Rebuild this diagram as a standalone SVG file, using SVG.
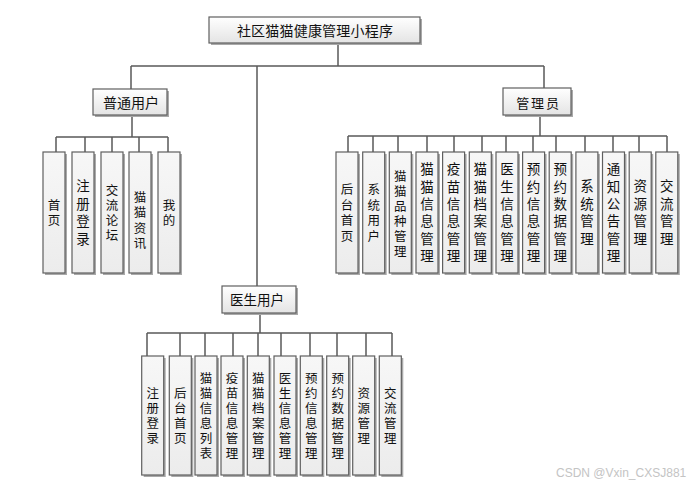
<svg xmlns="http://www.w3.org/2000/svg" width="700" height="487" viewBox="0 0 700 487">
<defs>
<linearGradient id="g" x1="0" y1="0" x2="0" y2="1">
<stop offset="0" stop-color="#ffffff"/>
<stop offset="1" stop-color="#e4e4e4"/>
</linearGradient>
<linearGradient id="g2" x1="0" y1="0" x2="0" y2="1">
<stop offset="0" stop-color="#f7f7f7"/>
<stop offset="1" stop-color="#ececec"/>
</linearGradient>
</defs>
<style>
.sh{fill:#a9a9a9}
.bx{fill:url(#g);stroke:#5f5f5f;stroke-width:1.2}
.cb{fill:url(#g2);stroke:#5f5f5f;stroke-width:1.2}
.t{font-family:"Noto Sans CJK SC","Noto Sans",sans-serif;fill:#111;text-anchor:middle}
.vt{writing-mode:vertical-rl;text-orientation:upright}
.s15{font-size:12.5px;letter-spacing:2.5px}
.s155{font-size:12.5px;letter-spacing:3px}
.s173{font-size:13.5px;letter-spacing:3.8px}
.s175{font-size:13.5px;letter-spacing:4px}
#connectors path{fill:none;stroke:#5a5a5a;stroke-width:1.5}
.wm{font-family:"Liberation Sans","Noto Sans",sans-serif;font-size:12px;fill:#c4c4c4}
</style>
<rect width="700" height="487" fill="#ffffff"/>
<g id="connectors">
<path d="M338 43V66M131 66H544M131 66V89M544 66V88M257 66V286"/>
<path d="M132 115V137M56 137H168M56 137V152M85 137V152M112 137V152M139 137V152M168 137V152"/>
<path d="M540 115V136M348 136H667M348 136V152M373 136V152M398 136V152M427 136V152M454 136V152M482 136V152M506 136V152M533 136V152M556 136V152M585 136V152M613 136V152M639 136V152M667 136V152"/>
<path d="M260 313V333M147 333H392M147 333V356M180 333V356M205 333V356M233 333V356M258 333V356M281 333V356M310 333V356M337 333V356M366 333V356M392 333V356"/>
</g>
<g id="root">
<rect class="sh" x="211" y="19" width="211" height="26"/>
<rect class="bx" x="209" y="17" width="211" height="26"/>
<text class="t" x="315" y="36.4" font-size="14" letter-spacing="0.2">社区猫猫健康管理小程序</text>
</g>
<g id="n_user">
<rect class="sh" x="95" y="91" width="74" height="26"/>
<rect class="bx" x="93" y="89" width="74" height="26"/>
<text class="t" x="131" y="107.7" font-size="14">普通用户</text>
</g>
<g id="n_admin">
<rect class="sh" x="505" y="90" width="68" height="27"/>
<rect class="bx" x="503" y="88" width="68" height="27"/>
<text class="t" x="538.5" y="108" font-size="13" letter-spacing="1.8">管理员</text>
</g>
<g id="n_doctor">
<rect class="sh" x="224" y="288" width="74" height="27"/>
<rect class="bx" x="222" y="286" width="74" height="27"/>
<text class="t" x="257" y="305" font-size="13.5">医生用户</text>
</g>
<g id="u1"><rect class="sh" x="45" y="154" width="22" height="121"/><rect class="cb" x="43" y="152" width="22" height="121"/><text class="t vt s15" x="54" y="213.8">首页</text></g>
<g id="u2"><rect class="sh" x="74" y="154" width="22" height="121"/><rect class="cb" x="72" y="152" width="22" height="121"/><text class="t vt s175" x="83" y="214.5">注册登录</text></g>
<g id="u3"><rect class="sh" x="103" y="154" width="22" height="121"/><rect class="cb" x="101" y="152" width="22" height="121"/><text class="t vt s15" x="112" y="213.8">交流论坛</text></g>
<g id="u4"><rect class="sh" x="131" y="154" width="22" height="121"/><rect class="cb" x="129" y="152" width="22" height="121"/><text class="t vt s155" x="140" y="221.5">猫猫资讯</text></g>
<g id="u5"><rect class="sh" x="160" y="154" width="22" height="121"/><rect class="cb" x="158" y="152" width="22" height="121"/><text class="t vt s15" x="169" y="213.8">我的</text></g>
<g id="a1"><rect class="sh" x="338" y="154" width="22" height="121"/><rect class="cb" x="336" y="152" width="22" height="121"/><text class="t vt s155" x="347" y="214">后台首页</text></g>
<g id="a2"><rect class="sh" x="364.7" y="154" width="22" height="121"/><rect class="cb" x="362.7" y="152" width="22" height="121"/><text class="t vt s155" x="373.7" y="214">系统用户</text></g>
<g id="a3"><rect class="sh" x="391.3" y="154" width="22" height="121"/><rect class="cb" x="389.3" y="152" width="22" height="121"/><text class="t vt s15" x="400.3" y="214.8">猫猫品种管理</text></g>
<g id="a4"><rect class="sh" x="418" y="154" width="22" height="121"/><rect class="cb" x="416" y="152" width="22" height="121"/><text class="t vt s173" x="427" y="214.4">猫猫信息管理</text></g>
<g id="a5"><rect class="sh" x="444.6" y="154" width="22" height="121"/><rect class="cb" x="442.6" y="152" width="22" height="121"/><text class="t vt s173" x="453.6" y="214.4">疫苗信息管理</text></g>
<g id="a6"><rect class="sh" x="471.3" y="154" width="22" height="121"/><rect class="cb" x="469.3" y="152" width="22" height="121"/><text class="t vt s173" x="480.3" y="214.4">猫猫档案管理</text></g>
<g id="a7"><rect class="sh" x="498" y="154" width="22" height="121"/><rect class="cb" x="496" y="152" width="22" height="121"/><text class="t vt s173" x="507" y="214.4">医生信息管理</text></g>
<g id="a8"><rect class="sh" x="524.6" y="154" width="22" height="121"/><rect class="cb" x="522.6" y="152" width="22" height="121"/><text class="t vt s173" x="533.6" y="214.4">预约信息管理</text></g>
<g id="a9"><rect class="sh" x="551.2" y="154" width="22" height="121"/><rect class="cb" x="549.2" y="152" width="22" height="121"/><text class="t vt s173" x="560.2" y="214.4">预约数据管理</text></g>
<g id="a10"><rect class="sh" x="577.9" y="154" width="22" height="121"/><rect class="cb" x="575.9" y="152" width="22" height="121"/><text class="t vt s175" x="586.9" y="214.5">系统管理</text></g>
<g id="a11"><rect class="sh" x="604.5" y="154" width="22" height="121"/><rect class="cb" x="602.5" y="152" width="22" height="121"/><text class="t vt s173" x="613.5" y="214.4">通知公告管理</text></g>
<g id="a12"><rect class="sh" x="631.2" y="154" width="22" height="121"/><rect class="cb" x="629.2" y="152" width="22" height="121"/><text class="t vt s175" x="640.2" y="214.5">资源管理</text></g>
<g id="a13"><rect class="sh" x="657.8" y="154" width="22" height="121"/><rect class="cb" x="655.8" y="152" width="22" height="121"/><text class="t vt s175" x="666.8" y="214.5">交流管理</text></g>
<g id="d1"><rect class="sh" x="143.7" y="358" width="22" height="119"/><rect class="cb" x="141.7" y="356" width="22" height="119"/><text class="t vt s15" x="152.7" y="417">注册登录</text></g>
<g id="d2"><rect class="sh" x="171.3" y="358" width="22" height="119"/><rect class="cb" x="169.3" y="356" width="22" height="119"/><text class="t vt s15" x="180.3" y="417">后台首页</text></g>
<g id="d3"><rect class="sh" x="197" y="358" width="22" height="119"/><rect class="cb" x="195" y="356" width="22" height="119"/><text class="t vt s15" x="206" y="417">猫猫信息列表</text></g>
<g id="d4"><rect class="sh" x="223" y="358" width="22" height="119"/><rect class="cb" x="221" y="356" width="22" height="119"/><text class="t vt s15" x="232" y="417">疫苗信息管理</text></g>
<g id="d5"><rect class="sh" x="249.3" y="358" width="22" height="119"/><rect class="cb" x="247.3" y="356" width="22" height="119"/><text class="t vt s15" x="258.3" y="417">猫猫档案管理</text></g>
<g id="d6"><rect class="sh" x="276" y="358" width="22" height="119"/><rect class="cb" x="274" y="356" width="22" height="119"/><text class="t vt s15" x="285" y="417">医生信息管理</text></g>
<g id="d7"><rect class="sh" x="302.3" y="358" width="22" height="119"/><rect class="cb" x="300.3" y="356" width="22" height="119"/><text class="t vt s15" x="311.3" y="417">预约信息管理</text></g>
<g id="d8"><rect class="sh" x="328.7" y="358" width="22" height="119"/><rect class="cb" x="326.7" y="356" width="22" height="119"/><text class="t vt s15" x="337.7" y="417">预约数据管理</text></g>
<g id="d9"><rect class="sh" x="354.7" y="358" width="22" height="119"/><rect class="cb" x="352.7" y="356" width="22" height="119"/><text class="t vt s15" x="363.7" y="417">资源管理</text></g>
<g id="d10"><rect class="sh" x="381.3" y="358" width="22" height="119"/><rect class="cb" x="379.3" y="356" width="22" height="119"/><text class="t vt s15" x="390.3" y="417">交流管理</text></g>
<text class="wm" x="556" y="477">CSDN @Vxin_CXSJ881</text>
</svg>
